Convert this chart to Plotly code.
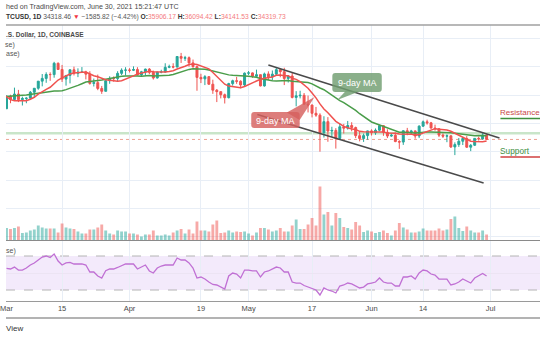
import plotly.graph_objects as go
import pandas as pd

W, H = 540, 340

# ---------------- data ----------------
# warm-up closes Feb 8 .. Feb 28 (for the moving averages)
warmup_closes = [46400, 46530, 44850, 48000, 47450, 47200, 48600, 47950, 49150, 52150,
                 51600, 55900, 55900, 57450, 54100, 48900, 49700, 47050, 46300, 46150, 45150]

# daily candles Mar 1 .. Jun 30 2021
closes = [49600, 48400, 50350, 48370, 48750, 48880, 50970, 52380, 54880, 55850,
          57230, 57200, 61180, 59000, 55600, 56900, 58900, 57650, 58030, 58100,
          57350, 54100, 54350, 52300, 51300, 55050, 55850, 55780, 57630, 58750,
          58800,  # Mar 31
          58730, 58970, 57060, 58200, 59130, 57990, 56000, 58090, 58090, 59770,
          60000, 59860, 63580, 62950, 63160, 61330, 60000, 56200, 55700, 56470,
          53800, 51700, 51190, 50100, 49050, 54020, 55030, 54840, 53560, 57700,  # Apr 30
          57800, 56570, 57170, 53200, 57440, 56400, 57360, 58930, 58230, 55840,
          56700, 49150, 49700, 49900, 46760, 46450, 43550, 42900, 36700, 40600,
          37300, 37500, 34700, 38800, 38300, 39240, 38530, 35660, 34650, 35680,
          37340,  # May 31
          36690, 37580, 39190, 36850, 35520, 35800, 33580, 33400, 37390, 36690,
          37340, 35550, 39020, 40540, 40180, 38340, 38100, 35840, 35490, 35600,
          31680, 32510, 33690, 34660, 31590, 32270, 34700, 34500, 35906.17, 34319.73]
highs = [49790, 50100, 52600, 51800, 49400, 49200, 51400, 52400, 54900, 57400,
         58000, 58000, 61700, 61500, 60600, 56900, 58900, 60000, 59400, 59850,
         58550, 58400, 55800, 57200, 53200, 55100, 56600, 56550, 58400, 59400,
         59800,
         59450, 60100, 59800, 58500, 59300, 59500, 58600, 58200, 58900, 61200,
         60700, 61200, 63700, 64850, 63800, 63600, 62500, 60400, 57500, 57000,
         56700, 55400, 52100, 51150, 50500, 54300, 55400, 56400, 55200, 57950,
         58450, 57950, 58950, 57200, 57900, 58350, 58650, 59500, 59250, 59600,
         56900, 58000, 51350, 51500, 50700, 49800, 46650, 45800, 43550, 42500,
         42200, 38800, 38300, 39900, 39800, 40850, 40400, 38850, 37300, 36400,
         37450,
         37900, 38200, 39450, 39250, 37900, 36450, 36800, 34050, 37550, 38400,
         37700, 37450, 39300, 41000, 41300, 40500, 39550, 38200, 36450, 36100,
         35750, 33300, 34850, 35250, 35500, 32700, 34700, 35300, 36550, 36094.42]
lows = [45100, 47100, 48100, 47500, 46300, 47100, 48900, 49300, 51850, 53050,
        54300, 55000, 56100, 58950, 54600, 53300, 54100, 56900, 56300, 57800,
        55500, 53650, 53000, 51700, 50400, 51300, 53950, 54700, 54900, 57050,
        56900,
        57950, 58450, 56950, 56500, 56800, 57350, 55450, 55800, 57650, 57900,
        59450, 59400, 59800, 61300, 62000, 60000, 59600, 51500, 54200, 53500,
        53600, 50400, 47500, 48800, 47000, 48800, 53300, 53950, 52350, 53050,
        57050, 56050, 56500, 53050, 52950, 55250, 55300, 56950, 56250, 53500,
        54400, 48800, 46000, 48800, 46650, 43850, 42100, 42300, 30000, 35000,
        33500, 35300, 31100, 34400, 36400, 37800, 37200, 34800, 33650, 33450,
        34200,
        35700, 35950, 37200, 35600, 34800, 35250, 33350, 31000, 32400, 35800,
        35950, 34600, 34800, 38750, 39550, 38150, 37400, 35150, 34850, 33350,
        31300, 28800, 31700, 32350, 31300, 30200, 32000, 33900, 34300, 34141.53]

# volume, thousand BTC
volume_k = [24, 22, 24, 27, 14, 15, 19, 21, 29, 25, 23, 23, 23, 15, 33, 25, 23, 22, 17, 13,
            13, 21, 21, 25, 31, 19, 13, 11, 19, 17, 17, 13, 13, 11, 7, 11, 11, 19, 9, 9,
            11, 9, 15, 19, 22, 13, 21, 13, 37, 19, 19, 17, 31, 39, 14, 15, 19, 15, 17, 16,
            17, 13, 9, 15, 24, 24, 21,
            17, 19, 24, 17, 17, 29, 41, 22, 22, 31, 44, 29, 107, 51, 56, 29, 54, 44, 26, 24,
            21, 36, 29, 16, 19, 17, 14, 16, 19, 14, 9, 19, 34, 25, 21, 15, 15, 17, 23, 19,
            19, 19, 23, 19, 21, 42, 47, 24, 18, 27, 19, 15, 15, 19, 11]

# RSI(14)
rsi = [55.5, 54.7, 57.0, 53.5, 53.5, 55.9, 59.4, 61.8, 65.3, 68.8,
       70.0, 68.2, 72.4, 64.1, 59.4, 61.8, 62.4, 60.6, 60.6, 60.6,
       59.4, 51.2, 51.2, 46.5, 44.1, 52.7, 54.7, 54.7, 56.5, 58.2,
       60.6, 60.6, 60.6, 54.7, 57.0, 59.4, 52.4, 50.0, 55.9, 58.2,
       59.4, 59.4, 59.4, 67.6, 65.3, 65.3, 61.8, 55.9, 44.1, 45.3,
       42.9, 39.4, 36.5, 35.9, 33.5, 31.2, 46.5, 50.0, 48.8, 44.1,
       53.5, 53.5, 52.4, 52.4, 45.3, 51.2, 52.4, 54.7, 57.0, 55.9,
       51.2, 51.2, 39.4, 38.2, 38.2, 35.3, 33.5, 31.2, 30.0, 24.1,
       32.4, 30.0, 28.8, 26.5, 34.7, 35.9, 38.2, 37.1, 34.7, 32.4,
       33.5, 37.1, 38.2, 39.4, 44.1, 39.4, 38.2, 38.2, 34.7, 34.7,
       45.3, 45.3, 46.5, 42.9, 50.0, 53.5, 52.4, 48.8, 47.6, 42.9,
       42.9, 42.9, 35.9, 37.1, 39.4, 42.9, 40.6, 38.2, 44.1, 46.5,
       49.4, 46.5]

tick_dates = ["2021-03-01", "2021-03-15", "2021-04-01", "2021-04-19", "2021-05-01",
              "2021-05-17", "2021-06-01", "2021-06-14", "2021-07-01"]
tick_labels = ["Mar", "15", "Apr", "19", "May", "17", "Jun", "14", "Jul"]

# drawn trend channel (date, price)
upper_channel = [("2021-05-06 00:00", 60580), ("2021-07-03 06:00", 34830)]
lower_channel = [("2021-05-03 05:00", 43120), ("2021-06-29 06:00", 18960)]
resistance_level = 36490
last_close = 34319.73

# ---------------- build ----------------
dates = pd.date_range("2021-03-01", "2021-06-30", freq="D")
opens = [warmup_closes[-1]] + closes[:-1]
all_closes = pd.Series(warmup_closes + closes,
                       index=pd.date_range("2021-02-08", "2021-06-30", freq="D"))
ma9 = all_closes.rolling(9).mean().loc["2021-02-27":]
ma21 = all_closes.rolling(21).mean().loc["2021-02-27":]

UP, DN = "#26a69a", "#ef5350"
vol_colors = ["rgba(38,166,154,0.5)" if c >= o else "rgba(239,83,80,0.5)"
              for o, c in zip(opens, closes)]

def px(x):
    return x / W

def py(y):
    return 1 - y / H

main_dom = [py(240), py(25)]
rsi_dom = [py(301), py(241)]
xr = ["2021-02-28 20:50", "2021-07-13 11:02"]
GRID = "#e8eef6"
FONT = "Liberation Sans"

fig = go.Figure()
fig.add_trace(go.Bar(x=dates, y=volume_k, marker=dict(color=vol_colors, line=dict(width=0)),
                     width=0.72 * 86400000, xaxis="x", yaxis="y2", hoverinfo="skip"))
fig.add_trace(go.Scatter(x=ma21.index, y=ma21.values, mode="lines",
                         line=dict(color="#4a9d4a", width=1.5), xaxis="x", yaxis="y"))
fig.add_trace(go.Scatter(x=ma9.index, y=ma9.values, mode="lines",
                         line=dict(color="#f0524f", width=1.5), xaxis="x", yaxis="y"))
fig.add_trace(go.Candlestick(x=dates, open=opens, high=highs, low=lows, close=closes,
                             increasing=dict(line=dict(color=UP, width=1), fillcolor=UP),
                             decreasing=dict(line=dict(color=DN, width=1), fillcolor=DN),
                             whiskerwidth=0, xaxis="x", yaxis="y"))
fig.add_trace(go.Scatter(x=dates, y=rsi, mode="lines",
                         line=dict(color="#c070d4", width=1.3), xaxis="x2", yaxis="y3"))

shapes = []
# RSI band
shapes.append(dict(type="rect", xref="paper", yref="y3", x0=0, x1=1, y0=30, y1=70,
                   fillcolor="rgba(155,80,220,0.12)", line=dict(width=0), layer="below"))
for lvl in (30, 70):
    shapes.append(dict(type="line", xref="paper", yref="y3", x0=0, x1=1, y0=lvl, y1=lvl,
                       line=dict(color="#b4b4b4", width=1, dash="dash"), layer="below"))
# horizontal levels on price
shapes.append(dict(type="line", xref="paper", yref="y", x0=0, x1=1,
                   y0=resistance_level, y1=resistance_level,
                   line=dict(color="rgba(100,180,100,0.35)", width=2.5), layer="below"))
shapes.append(dict(type="line", xref="paper", yref="y", x0=0, x1=1,
                   y0=last_close, y1=last_close,
                   line=dict(color="rgba(230,120,100,0.7)", width=1, dash="dot"), layer="below"))
# channel
for (d0, p0), (d1, p1) in (upper_channel, lower_channel):
    shapes.append(dict(type="line", xref="x", yref="y", x0=d0, y0=p0, x1=d1, y1=p1,
                       line=dict(color="#4a4a4a", width=1.5)))
# frame lines
shapes.append(dict(type="line", xref="paper", yref="paper", x0=0, x1=1, y0=py(25), y1=py(25),
                   line=dict(color="#a0a0a0", width=1.5)))
shapes.append(dict(type="line", xref="paper", yref="paper", x0=0, x1=1, y0=py(318), y1=py(318),
                   line=dict(color="#9a9a9a", width=1.5)))
# resistance / support underlines
shapes.append(dict(type="line", xref="paper", yref="paper", x0=px(500), x1=1, y0=py(118.5), y1=py(118.5),
                   line=dict(color="#3f8f3f", width=1.5)))
shapes.append(dict(type="line", xref="paper", yref="paper", x0=px(500), x1=1, y0=py(157), y1=py(157),
                   line=dict(color="#d04040", width=1.5)))


def callout_path(x0, y0, x1, y1, ptr, r=3):
    pts = [f"M{px(x0 + r)},{py(y0)}", f"L{px(x1 - r)},{py(y0)}",
           f"Q{px(x1)},{py(y0)} {px(x1)},{py(y0 + r)}", f"L{px(x1)},{py(y1 - r)}",
           f"Q{px(x1)},{py(y1)} {px(x1 - r)},{py(y1)}", f"L{px(x0 + r)},{py(y1)}",
           f"Q{px(x0)},{py(y1)} {px(x0)},{py(y1 - r)}", f"L{px(x0)},{py(y0 + r)}",
           f"Q{px(x0)},{py(y0)} {px(x0 + r)},{py(y0)}", "Z"]
    tri = f"M{px(ptr[0][0])},{py(ptr[0][1])} L{px(ptr[1][0])},{py(ptr[1][1])} L{px(ptr[2][0])},{py(ptr[2][1])} Z"
    return " ".join(pts), tri

for box, ptr, col in (((248, 112, 297, 128), ((284, 112.5), (312, 97), (297, 120)), "rgba(214,96,94,0.82)"),
                      ((330, 73, 380, 92), ((343, 91.5), (335, 100), (357, 91.5)), "rgba(112,158,112,0.82)")):
    rr, tri = callout_path(*box, ptr)
    shapes.append(dict(type="path", xref="paper", yref="paper", path=rr, fillcolor=col, line=dict(width=0)))
    shapes.append(dict(type="path", xref="paper", yref="paper", path=tri, fillcolor=col, line=dict(width=0)))

sal = "#f47a7e"
hdr2 = ("<b>TCUSD, 1D</b> <span style='color:#555'>34318.46</span> "
        "<span style='color:#f23645'>▼</span> <span style='color:#555'>−1585.82 (−4.42%)</span> "
        f"<b>O:</b><span style='color:{sal}'>35906.17</span> <b>H:</b><span style='color:{sal}'>36094.42</span> "
        f"<b>L:</b><span style='color:{sal}'>34141.53</span> <b>C:</b><span style='color:{sal}'>34319.73</span>")

def ann(text, x, y, size, color="#333", anchor="left"):
    return dict(text=text, x=px(x), y=py(y), xref="paper", yref="paper", xanchor=anchor,
                yanchor="middle", showarrow=False, borderpad=0,
                font=dict(family=FONT, size=size, color=color))

annotations = [
    ann("hed on TradingView.com, June 30, 2021 15:21:47 UTC", -1, 6.5, 7.1, "#4a4a4a"),
    ann(hdr2, -1, 17, 6.7, "#333"),
    ann("<b>.S. Dollar, 1D, COINBASE</b>", -1, 35.5, 6.5, "#4a4a4a"),
    ann("se)", -2, 45.5, 7, "#555"),
    ann("ase)", -1, 54.5, 7, "#555"),
    ann("se)", -1, 251, 7, "#555"),
    ann("View", -1, 328.5, 8, "#333"),
    ann("Resistance", 499, 113, 8, "#c84848"),
    ann("Support", 499, 151, 8.3, "#3f8f3f"),
    ann("9-day MA", 272.5, 120.5, 9, "white", anchor="center"),
    ann("9-day MA", 355, 82.5, 9, "white", anchor="center"),
]

fig.update_layout(
    width=W, height=H, margin=dict(l=0, r=0, t=0, b=0),
    paper_bgcolor="white", plot_bgcolor="white", showlegend=False,
    shapes=shapes, annotations=annotations,
    xaxis=dict(domain=[0, 1], anchor="y", range=xr, type="date", tickvals=tick_dates,
               showticklabels=False, showgrid=True, gridcolor=GRID, gridwidth=1,
               rangeslider=dict(visible=False), showline=True, linecolor="#8a8a8a",
               linewidth=1, zeroline=False, ticks=""),
    yaxis=dict(domain=main_dom, range=[-1146, 74691], tick0=0, dtick=10000,
               showticklabels=False, showgrid=True, gridcolor=GRID, zeroline=False,
               ticks=""),
    yaxis2=dict(domain=main_dom, overlaying="y", range=[0, 430], showticklabels=False,
                showgrid=False, zeroline=False, ticks=""),
    xaxis2=dict(domain=[0, 1], anchor="y3", range=xr, type="date", matches="x",
                tickvals=tick_dates, ticktext=tick_labels, ticklabeloverflow="allow",
                tickfont=dict(family=FONT, size=7.5, color="#4a4a4a"),
                showgrid=True, gridcolor=GRID, showline=True, linecolor="#9a9a9a",
                linewidth=1, zeroline=False, ticks=""),
    yaxis3=dict(domain=rsi_dom, range=[17.06, 87.65], tickvals=[50], showticklabels=False,
                showgrid=True, gridcolor="#ece4f3", zeroline=False, ticks=""),
)

fig.write_html("out.html")
